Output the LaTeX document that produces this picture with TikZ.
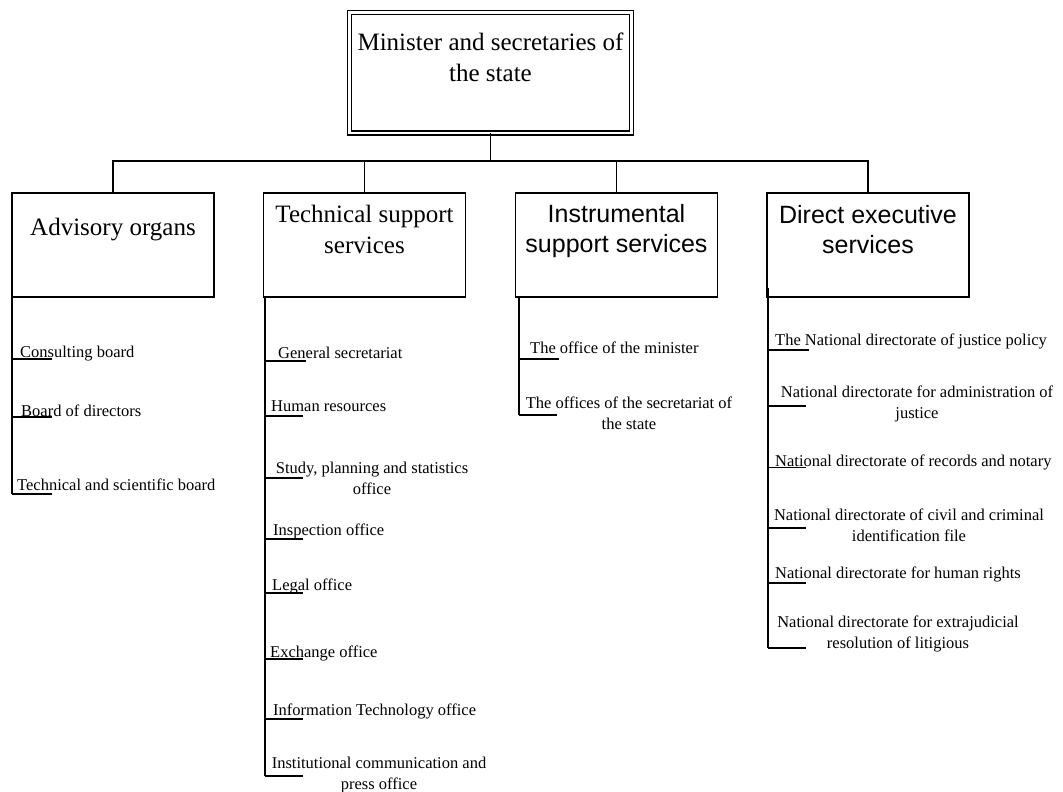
\documentclass[tikz,border=0pt]{standalone}
\usepackage{fontspec}
\setmainfont{Liberation Serif}
\setsansfont{Liberation Sans}
\usepackage{tikz}
\usetikzlibrary{calc, positioning}

\begin{document}
\begin{tikzpicture}[x=1pt, y=-1pt,
        topbox/.style={draw, double, double distance=2.6pt, line width=1.3pt, outer sep=0pt,
            minimum width=282pt, minimum height=120.5pt, inner sep=0pt},
        grp/.style={draw, line width=1.4pt, outer sep=0pt, minimum width=202pt,
            minimum height=104pt, inner sep=0pt},
        ttl/.style={anchor=north, inner sep=0pt, align=center, font=\fontsize{25}{30.5}\selectfont},
        sttl/.style={ttl, font=\fontsize{25}{30.5}\selectfont\sffamily},
        item/.style={anchor=base west, inner sep=0pt, font=\fontsize{16.5}{21}\selectfont},
        item2/.style={anchor=north, inner sep=0pt, align=center, font=\fontsize{16.5}{21}\selectfont},
        spine/.style={line width=1.5pt},
        tick/.style={line width=1.6pt}
    ]
    \useasboundingbox (0,0) rectangle (1063,792);

    % head and the four groups
    \node[topbox, label={[ttl, yshift=-20.5pt]north:Minister and secretaries of\\the state}] (minister) at (490.5,72.75) {};
    \node[grp, label={[ttl, yshift=-25pt]north:Advisory organs}] (adv) at (113,245) {};
    \node[grp, label={[ttl, yshift=-12pt]north:Technical support\\services}] (tech) at (364.5,245) {};
    \node[grp, label={[sttl, yshift=-11pt]north:Instrumental\\support services}] (instr) at (616.5,245) {};
    \node[grp, label={[sttl, yshift=-12pt]north:Direct executive\\services}] (dir) at (868,245) {};

    \coordinate (bus) at (490.5,161);
    \draw[line width=1.6pt] (minister) -- (bus);
    \draw[line width=1.4pt] (adv.north) -- (adv.north |- bus) -- (dir.north |- bus) -- (dir.north);
    \draw[line width=1.4pt] (tech.north) -- (tech.north |- bus);
    \draw[line width=1.4pt] (instr.north) -- (instr.north |- bus);

    % advisory organs
    \coordinate (a1) at (12,359);
    \coordinate (a2) at (12,417);
    \coordinate (a3) at (12,494);
    \node[item] (cons) at (20,357) {Consulting board};
    \node[item] (bod) at (21,416) {Board of directors};
    \node[item] (tsb) at (17,490) {Technical and scientific board};
    \draw[spine] (a1 |- adv.south) -- (a3);
    \foreach \c in {a1,a2,a3} \draw[tick] (\c) -- ++(40,0);

    % technical support services
    \coordinate (t1) at (265,361);
    \coordinate (t2) at (265,416);
    \coordinate (t3) at (265,478);
    \coordinate (t4) at (265,539);
    \coordinate (t5) at (265,593);
    \coordinate (t6) at (265,659);
    \coordinate (t7) at (265,719);
    \coordinate (t8) at (265,776);
    \node[item] (gens) at (278,358) {General secretariat};
    \node[item] (hres) at (271,411) {Human resources};
    \node[item2] (study) at (372,461.7) {Study, planning and statistics\\office};
    \node[item] (insp) at (273,535) {Inspection office};
    \node[item] (legal) at (272,590) {Legal office};
    \node[item] (exch) at (270,657) {Exchange office};
    \node[item] (info) at (273,715) {Information Technology office};
    \node[item2] (inst) at (379,756.7) {Institutional communication and\\press office};
    \draw[spine] (t1 |- tech.south) -- (t8);
    \draw[tick] (t1) -- ++(41,0);
    \foreach \c in {t2,t3,t4,t5,t6,t7,t8} \draw[tick] (\c) -- ++(38,0);

    % instrumental support services
    \coordinate (i1) at (519,359);
    \coordinate (i2) at (519,415);
    \node[item] (omin) at (530,353) {The office of the minister};
    \node[item2] (osec) at (629,396.7) {The offices of the secretariat of\\the state};
    \draw[spine] (i1 |- instr.south) -- (i2);
    \draw[tick] (i1) -- ++(40,0);
    \draw[tick] (i2) -- ++(38,0);

    % direct executive services
    \coordinate (d0) at (768,288);
    \coordinate (d1) at (768,350);
    \coordinate (d2) at (768,406);
    \coordinate (d3) at (768,467.5);
    \coordinate (d4) at (768,528);
    \coordinate (d5) at (768,583);
    \coordinate (d6) at (768,648);
    \node[item] (jpol) at (775,345) {The National directorate of justice policy};
    \node[item2] (adm) at (917,385.7) {National directorate for administration of\\justice};
    \node[item] (rec) at (775,466) {National directorate of records and notary};
    \node[item2] (civ) at (909,508.7) {National directorate of civil and criminal\\identification file};
    \node[item] (hum) at (775,578) {National directorate for human rights};
    \node[item2] (ext) at (898,615.7) {National directorate for extrajudicial\\resolution of litigious};
    \draw[spine] (d0) -- (d6);
    \draw[tick] (d1) -- ++(41,0);
    \foreach \c in {d2,d3,d4,d5,d6} \draw[tick] (\c) -- ++(38,0);
\end{tikzpicture}
\end{document}
